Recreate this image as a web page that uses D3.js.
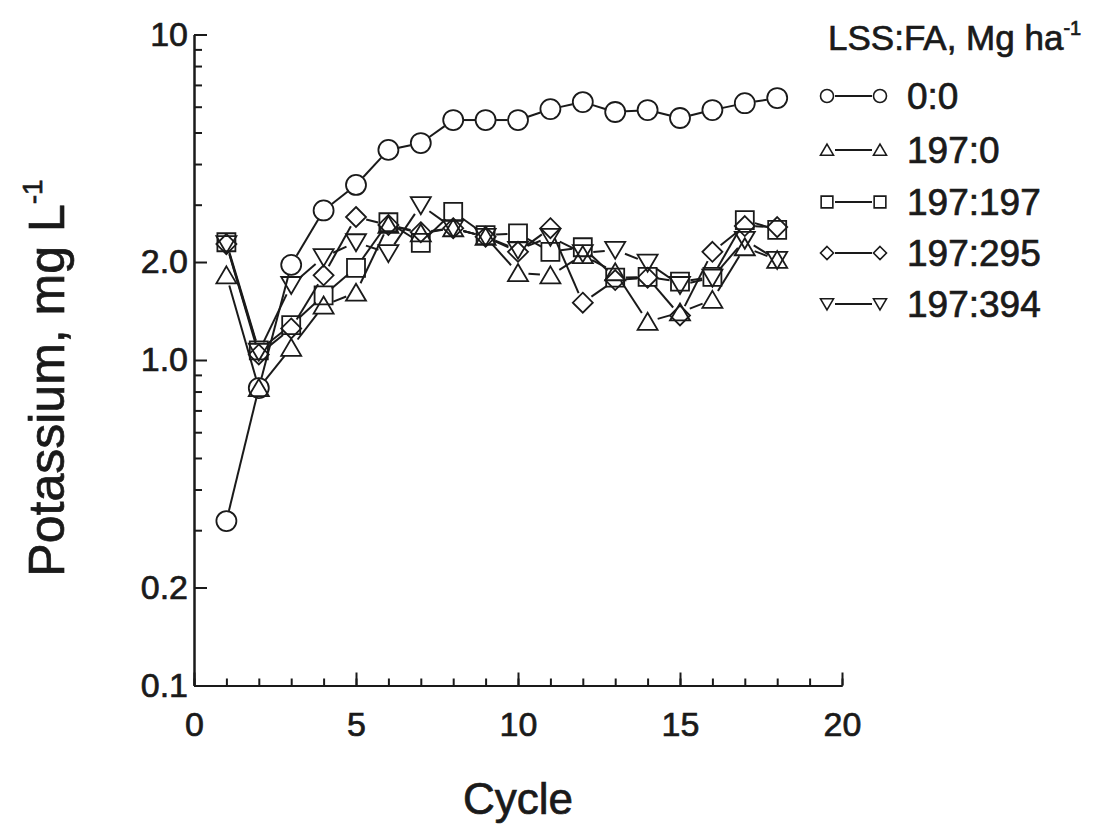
<!DOCTYPE html>
<html>
<head>
<meta charset="utf-8">
<script src="https://cdn.jsdelivr.net/npm/d3@7"></script>
<style>
  body { margin: 0; background: #fff; }
  text { font-family: Arial, "Liberation Sans", Helvetica, sans-serif; fill: #1a1a1a; stroke: #1a1a1a; stroke-width: 0.7px; }
</style>
</head>
<body>
<div id="chart"></div>
<script>
// data
var cycles = [1, 2, 3, 4, 5, 6, 7, 8, 9, 10, 11, 12, 13, 14, 15, 16, 17, 18];
var k_0_0     = [0.32, 0.82, 1.96, 2.88, 3.45, 4.42, 4.64, 5.46, 5.46, 5.46, 5.9, 6.2, 5.78, 5.86, 5.54, 5.86, 6.15, 6.38];
var k_197_0   = [1.82, 0.82, 1.09, 1.47, 1.61, 2.6, 2.45, 2.54, 2.39, 1.85, 1.82, 2.1, 1.86, 1.31, 1.4, 1.53, 2.22, 2.03];
var k_197_197 = [2.3, 1.07, 1.28, 1.58, 1.92, 2.65, 2.29, 2.85, 2.42, 2.45, 2.15, 2.22, 1.79, 1.8, 1.74, 1.8, 2.69, 2.51];
var k_197_295 = [2.27, 1.04, 1.25, 1.82, 2.75, 2.6, 2.47, 2.54, 2.39, 2.15, 2.54, 1.5, 1.76, 1.79, 1.37, 2.15, 2.58, 2.56];
var k_197_394 = [2.27, 1.06, 1.7, 2.07, 2.3, 2.13, 2.99, 2.54, 2.39, 2.18, 2.39, 2.13, 2.18, 1.99, 1.7, 1.79, 2.34, 2.03];

var seriesNames = ["0:0", "197:0", "197:197", "197:295", "197:394"];
var seriesShapes = ["circle", "triangle", "square", "diamond", "invtriangle"];
var seriesValues = [k_0_0, k_197_0, k_197_197, k_197_295, k_197_394];

var xTicks = [0, 5, 10, 15, 20];
var xMinor = d3.range(0, 21);
var yTicks = [0.1, 0.2, 1, 2, 10];
var yTickLabels = ["0.1", "0.2", "1.0", "2.0", "10"];
var yMinor = [0.3, 0.4, 0.5, 0.6, 0.7, 0.8, 0.9, 3, 4, 5, 6, 7, 8, 9];

var width = 1094, height = 824;
var ink = "#1a1a1a";

var svg = d3.select("#chart")
  .append("svg")
    .attr("width", width)
    .attr("height", height);

var x = d3.scaleLinear().domain([0, 20]).range([194, 842]);
var y = d3.scaleLog().domain([0.1, 10]).range([685.5, 34.5]);

// marker path, s = half size
function marker(shape, s) {
  if (shape == "circle") {
    return "M" + s + ",0A" + s + "," + s + " 0 1,1 " + (-s) + ",0A" + s + "," + s + " 0 1,1 " + s + ",0Z";
  }
  if (shape == "square") {
    var h = s * 0.9;
    return "M" + (-h) + "," + (-h) + "H" + h + "V" + h + "H" + (-h) + "Z";
  }
  if (shape == "diamond") {
    return "M0," + (-s) + "L" + s + ",0L0," + s + "L" + (-s) + ",0Z";
  }
  if (shape == "triangle") {
    return "M0," + (-s * 0.9) + "L" + s + "," + (s * 0.8) + "L" + (-s) + "," + (s * 0.8) + "Z";
  }
  // inverted triangle
  return "M0," + (s * 0.9) + "L" + s + "," + (-s * 0.8) + "L" + (-s) + "," + (-s * 0.8) + "Z";
}

// x axis, ticks point inward
var gx = svg.append("g").attr("transform", "translate(0," + y(0.1) + ")");
gx.call(d3.axisBottom(x).tickValues(xMinor).tickSize(-7).tickSizeOuter(0).tickFormat(""));
var gx2 = svg.append("g").attr("transform", "translate(0," + y(0.1) + ")");
gx2.call(d3.axisBottom(x).tickValues(xTicks).tickSize(-13).tickSizeOuter(0).tickPadding(26));

// y axis
var gy = svg.append("g").attr("transform", "translate(" + x(0) + ",0)");
gy.call(d3.axisLeft(y).tickValues(yMinor).tickSize(-8).tickSizeOuter(0).tickFormat(""));
var gy2 = svg.append("g").attr("transform", "translate(" + x(0) + ",0)");
gy2.call(d3.axisLeft(y).tickValues(yTicks).tickSize(-13).tickSizeOuter(0).tickPadding(6)
  .tickFormat(function (d, i) { return yTickLabels[i]; }));

svg.selectAll(".domain, .tick line")
  .attr("stroke", ink)
  .attr("stroke-width", 2);
svg.selectAll(".tick text")
  .attr("font-size", 34)
  .attr("font-family", "Arial, 'Liberation Sans', sans-serif")
  .attr("fill", ink);

// axis titles
svg.append("text")
  .attr("x", x(10))
  .attr("y", 814)
  .attr("text-anchor", "middle")
  .attr("font-size", 44)
  .text("Cycle");

var yt = svg.append("text")
  .attr("transform", "translate(64,378) rotate(-90)")
  .attr("text-anchor", "middle")
  .attr("font-size", 50);
yt.append("tspan").text("Potassium, mg L");
yt.append("tspan").attr("font-size", 28).attr("dy", -22).text("-1");

// series: line segments trimmed at the markers, then hollow markers
var gap = 10.5;
seriesValues.forEach(function (vals, si) {
  var pts = cycles.map(function (c, i) { return [x(c), y(vals[i])]; });
  var segs = [];
  for (var i = 0; i < pts.length - 1; i++) {
    var dx = pts[i + 1][0] - pts[i][0], dy = pts[i + 1][1] - pts[i][1];
    var len = Math.sqrt(dx * dx + dy * dy);
    if (len > 2 * gap + 2) {
      var ux = dx / len, uy = dy / len;
      segs.push([pts[i][0] + ux * gap, pts[i][1] + uy * gap,
                 pts[i + 1][0] - ux * gap, pts[i + 1][1] - uy * gap]);
    }
  }
  svg.append("g").selectAll("line")
    .data(segs)
    .enter()
    .append("line")
      .attr("x1", function (d) { return d[0]; })
      .attr("y1", function (d) { return d[1]; })
      .attr("x2", function (d) { return d[2]; })
      .attr("y2", function (d) { return d[3]; })
      .attr("stroke", ink)
      .attr("stroke-width", 2);

  svg.append("g").selectAll("path")
    .data(pts)
    .enter()
    .append("path")
      .attr("d", marker(seriesShapes[si], 10))
      .attr("transform", function (d) { return "translate(" + d[0] + "," + d[1] + ")"; })
      .attr("fill", "none")
      .attr("stroke", ink)
      .attr("stroke-width", 1.8);
});

// legend
var lt = svg.append("text")
  .attr("x", 828)
  .attr("y", 50)
  .attr("font-size", 35);
lt.append("tspan").text("LSS:FA, Mg ha");
lt.append("tspan").attr("font-size", 20).attr("dy", -15).text("-1");

var legendY = [96, 150, 202, 253, 304];
seriesNames.forEach(function (name, i) {
  var g = svg.append("g").attr("transform", "translate(0," + legendY[i] + ")");
  g.append("line")
    .attr("x1", 835).attr("x2", 872)
    .attr("y1", 0).attr("y2", 0)
    .attr("stroke", ink)
    .attr("stroke-width", 2);
  [827, 880].forEach(function (mx) {
    g.append("path")
      .attr("d", marker(seriesShapes[i], 6.5))
      .attr("transform", "translate(" + mx + ",0)")
      .attr("fill", "none")
      .attr("stroke", ink)
      .attr("stroke-width", 1.6);
  });
  g.append("text")
    .attr("x", 907)
    .attr("y", 13)
    .attr("font-size", 37)
    .text(name);
});
</script>
</body>
</html>
